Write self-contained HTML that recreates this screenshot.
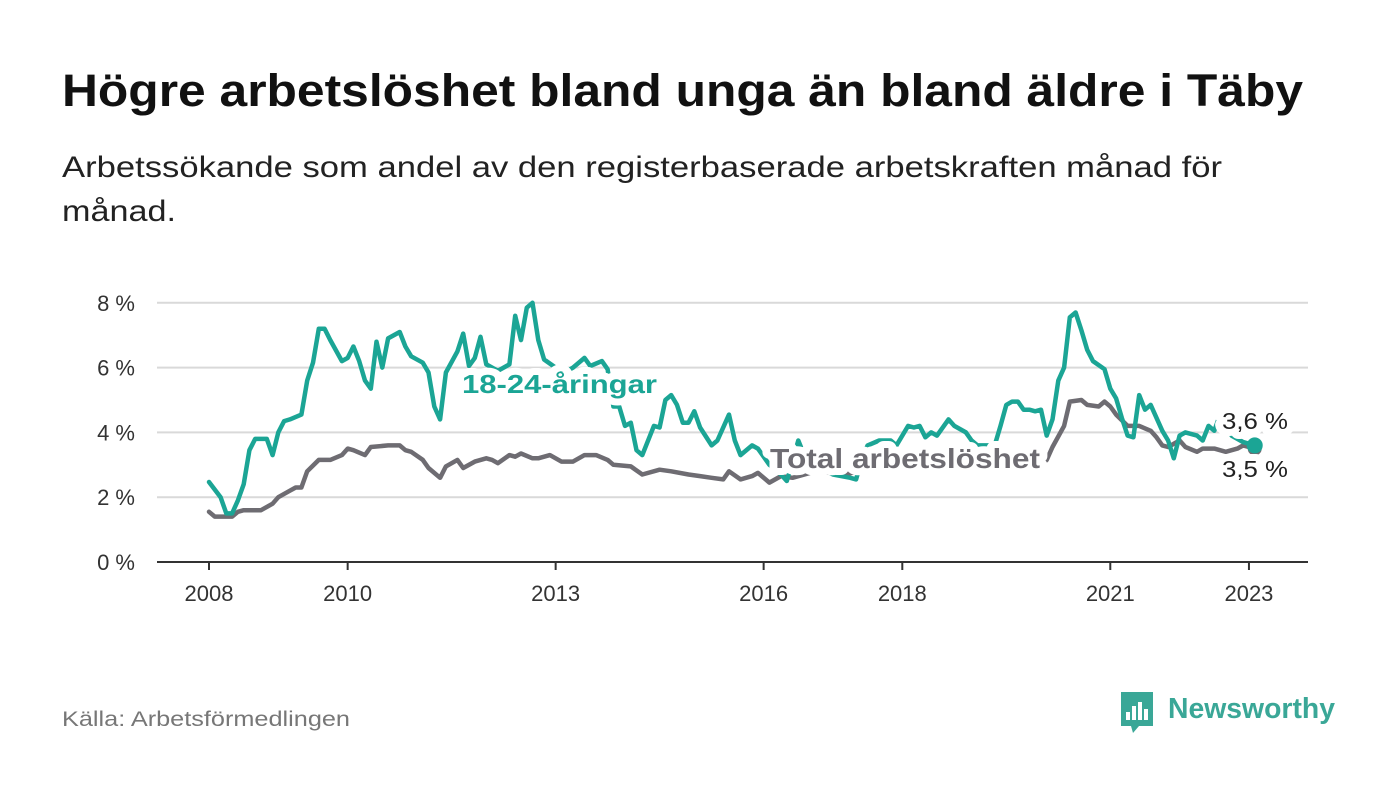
<!DOCTYPE html>
<html><head><meta charset="utf-8">
<style>
body{margin:0;background:#fff;width:1400px;height:794px;overflow:hidden;font-family:"Liberation Sans","DejaVu Sans",sans-serif;}
svg{display:block}
</style></head>
<body>
<svg id="chart" width="1400" height="794">
<text x="62" y="106" font-size="45" font-weight="bold" fill="#111" textLength="1241" lengthAdjust="spacingAndGlyphs">Högre arbetslöshet bland unga än bland äldre i Täby</text>
<text x="62" y="177" font-size="30" fill="#222" textLength="1160" lengthAdjust="spacingAndGlyphs">Arbetssökande som andel av den registerbaserade arbetskraften månad för</text>
<text x="62" y="221" font-size="30" fill="#222" textLength="114" lengthAdjust="spacingAndGlyphs">månad.</text>
<g id="grid"></g>
<g id="series"></g>
<g id="labels"></g>
<text x="62" y="726" font-size="21" fill="#777" textLength="288" lengthAdjust="spacingAndGlyphs">Källa: Arbetsförmedlingen</text>
<g>
<path d="M1121 692 h32 v34 h-14 l-6 7 l-2 -7 h-10 z" fill="#3aa797"/>
<rect x="1126" y="712" width="4" height="8" fill="#fff"/><rect x="1132" y="706" width="4" height="14" fill="#fff"/><rect x="1138" y="702" width="4" height="18" fill="#fff"/><rect x="1144" y="709" width="4" height="11" fill="#fff"/>
<text x="1168" y="718" font-size="29" font-weight="bold" fill="#3aa797" textLength="167" lengthAdjust="spacingAndGlyphs">Newsworthy</text>
</g>
</svg>
<script>
const months = [0,2,3,4,5,6,7,8,10,11,12,13,14,16,17,18,19,20,21,23,24,25,26,27,28,29,30,31,33,34,35,37,38,39,40,41,43,44,45,46,47,48,50,52,53,54,55,56,57,58,60,62,63,65,66,68,69,70,71,72,73,74,75,77,78,79,80,81,82,83,84,85,87,88,90,91,92,94,95,97,99,100,102,103,105,108,111,112,113,114,116,118,119,121,122,123,124,125,126,128,129,131,132,133,136,137,138,139,140,141,142,143,144,145,146,147,148,149,150,151,152,153,155,156,157,158,159,160,161,162,163,165,166,167,168,169,171,172,173,174,175,177,179,181];
const youthValues = [2.47,2.0,1.5,1.5,1.9,2.4,3.45,3.8,3.8,3.3,4.0,4.35,4.4,4.55,5.6,6.15,7.2,7.2,6.85,6.2,6.3,6.65,6.2,5.6,5.35,6.8,6.0,6.9,7.1,6.65,6.35,6.15,5.85,4.8,4.4,5.85,6.5,7.05,6.05,6.3,6.95,6.1,5.9,6.1,7.6,6.85,7.85,8.0,6.85,6.25,6.0,5.9,6.0,6.3,6.05,6.2,5.95,4.8,4.8,4.2,4.3,3.45,3.3,4.2,4.15,5.0,5.15,4.85,4.3,4.3,4.65,4.15,3.6,3.75,4.55,3.75,3.3,3.6,3.5,3.0,2.7,2.5,3.75,3.3,3.0,2.7,2.6,2.55,3.2,3.6,3.75,3.75,3.6,4.2,4.15,4.2,3.85,4.0,3.9,4.4,4.2,4.0,3.75,3.6,3.6,4.2,4.85,4.95,4.95,4.7,4.7,4.65,4.7,3.9,4.4,5.6,6.0,7.55,7.7,7.15,6.55,6.2,5.95,5.35,5.05,4.45,3.9,3.85,5.15,4.7,4.85,4.05,3.75,3.2,3.9,4.0,3.9,3.75,4.2,4.05,4.55,3.9,3.7,3.6];
const totalMonths = [0,1,4,5,6,9,11,12,14,15,16,17,19,21,23,24,25,27,28,31,33,34,35,37,38,40,41,43,44,46,48,49,50,52,53,54,56,57,59,61,63,65,67,69,70,73,75,78,80,83,85,87,89,90,92,94,95,97,99,101,105,110,115,120,125,130,135,140,144,145,146,148,149,151,152,154,155,156,157,159,160,161,163,164,165,166,168,169,171,172,174,176,178,179,181];
const totalValues = [1.55,1.4,1.4,1.55,1.6,1.6,1.8,2.0,2.2,2.3,2.3,2.8,3.15,3.15,3.3,3.5,3.45,3.3,3.55,3.6,3.6,3.45,3.4,3.15,2.9,2.6,2.95,3.15,2.9,3.1,3.2,3.15,3.05,3.3,3.25,3.35,3.2,3.2,3.3,3.1,3.1,3.3,3.3,3.15,3.0,2.95,2.7,2.85,2.8,2.7,2.65,2.6,2.55,2.8,2.55,2.65,2.75,2.45,2.65,2.6,2.8,2.7,2.9,3.0,3.0,2.9,2.8,2.9,3.0,3.15,3.55,4.2,4.95,5.0,4.85,4.8,4.95,4.8,4.55,4.2,4.2,4.2,4.05,3.85,3.6,3.55,3.75,3.55,3.4,3.5,3.5,3.4,3.5,3.6,3.5];
const yTicks = [0,2,4,6,8];
const xTickYears = [2008,2010,2013,2016,2018,2021,2023];

const NS='http://www.w3.org/2000/svg';
const X0=209, PX_PER_MONTH=69.33/12, Y0=562, PX_PER_UNIT=32.4;
const xm = m => X0 + m*PX_PER_MONTH;
const xy = yr => xm((yr-2008)*12);
const ys = v => Y0 - v*PX_PER_UNIT;
function mk(tag, attrs, parent){const e=document.createElementNS(NS,tag);for(const k in attrs)e.setAttribute(k,attrs[k]);parent.appendChild(e);return e;}
const grid=document.getElementById('grid'), series=document.getElementById('series'), labels=document.getElementById('labels');

yTicks.forEach(v=>{
  if(v>0){const l=mk('line',{x1:157,x2:1308,y1:ys(v),y2:ys(v),stroke:'#d9d9d9','stroke-width':2},grid);
  
  }
  const t=mk('text',{x:135,y:ys(v)+8,'text-anchor':'end','font-size':22,fill:'#333'},grid);
  t.textContent=v+' %';
  
  
});
const ax=mk('line',{x1:157,x2:1308,y1:Y0,y2:Y0,stroke:'#333','stroke-width':2},grid);


xTickYears.forEach(yr=>{
  const tk=mk('line',{x1:xy(yr),x2:xy(yr),y1:Y0,y2:Y0+8,stroke:'#333','stroke-width':2},grid);
  
  
  const t=mk('text',{x:xy(yr),y:601,'text-anchor':'middle','font-size':22,fill:'#333'},grid);
  t.textContent=yr;
  
  
});
function line(ms, vs, color, name){
  const d=ms.map((m,i)=>(i?'L':'M')+xm(m).toFixed(1)+' '+ys(vs[i]).toFixed(1)).join(' ');
  const p=mk('path',{d:d,fill:'none',stroke:color,'stroke-width':4.5,'stroke-linejoin':'round','stroke-linecap':'round'},series);
  
  
}
line(totalMonths,totalValues,'#6e6c72','total-line');
line(months,youthValues,'#1ba595','youth-line');
const lastY=youthValues[youthValues.length-1], lastT=totalValues[totalValues.length-1];
const lastM=months[months.length-1];
const d1=mk('circle',{cx:xm(lastM),cy:ys(lastT),r:7,fill:'#6e6c72'},series);


const d2=mk('circle',{cx:xm(lastM),cy:ys(lastY),r:8,fill:'#1ba595'},series);



function label(txt,x,y,size,color,weight,len,name){
  const t=mk('text',{x:x,y:y,'font-size':size,'font-weight':weight,fill:color,stroke:'#fff','stroke-width':14,'paint-order':'stroke','stroke-linejoin':'round',textLength:len,lengthAdjust:'spacingAndGlyphs'},labels);
  t.textContent=txt;
  
  
}
label('18-24-åringar',462,393,26,'#1ba595','bold',195,'youth-series-label');
label('Total arbetslöshet',770,468,28,'#6e6c72','bold',270,'total-series-label');
label('3,6 %',1222,429,23,'#222','normal',66,'youth-end-value');
label('3,5 %',1222,477,23,'#222','normal',66,'total-end-value');
</script>
</body></html>
